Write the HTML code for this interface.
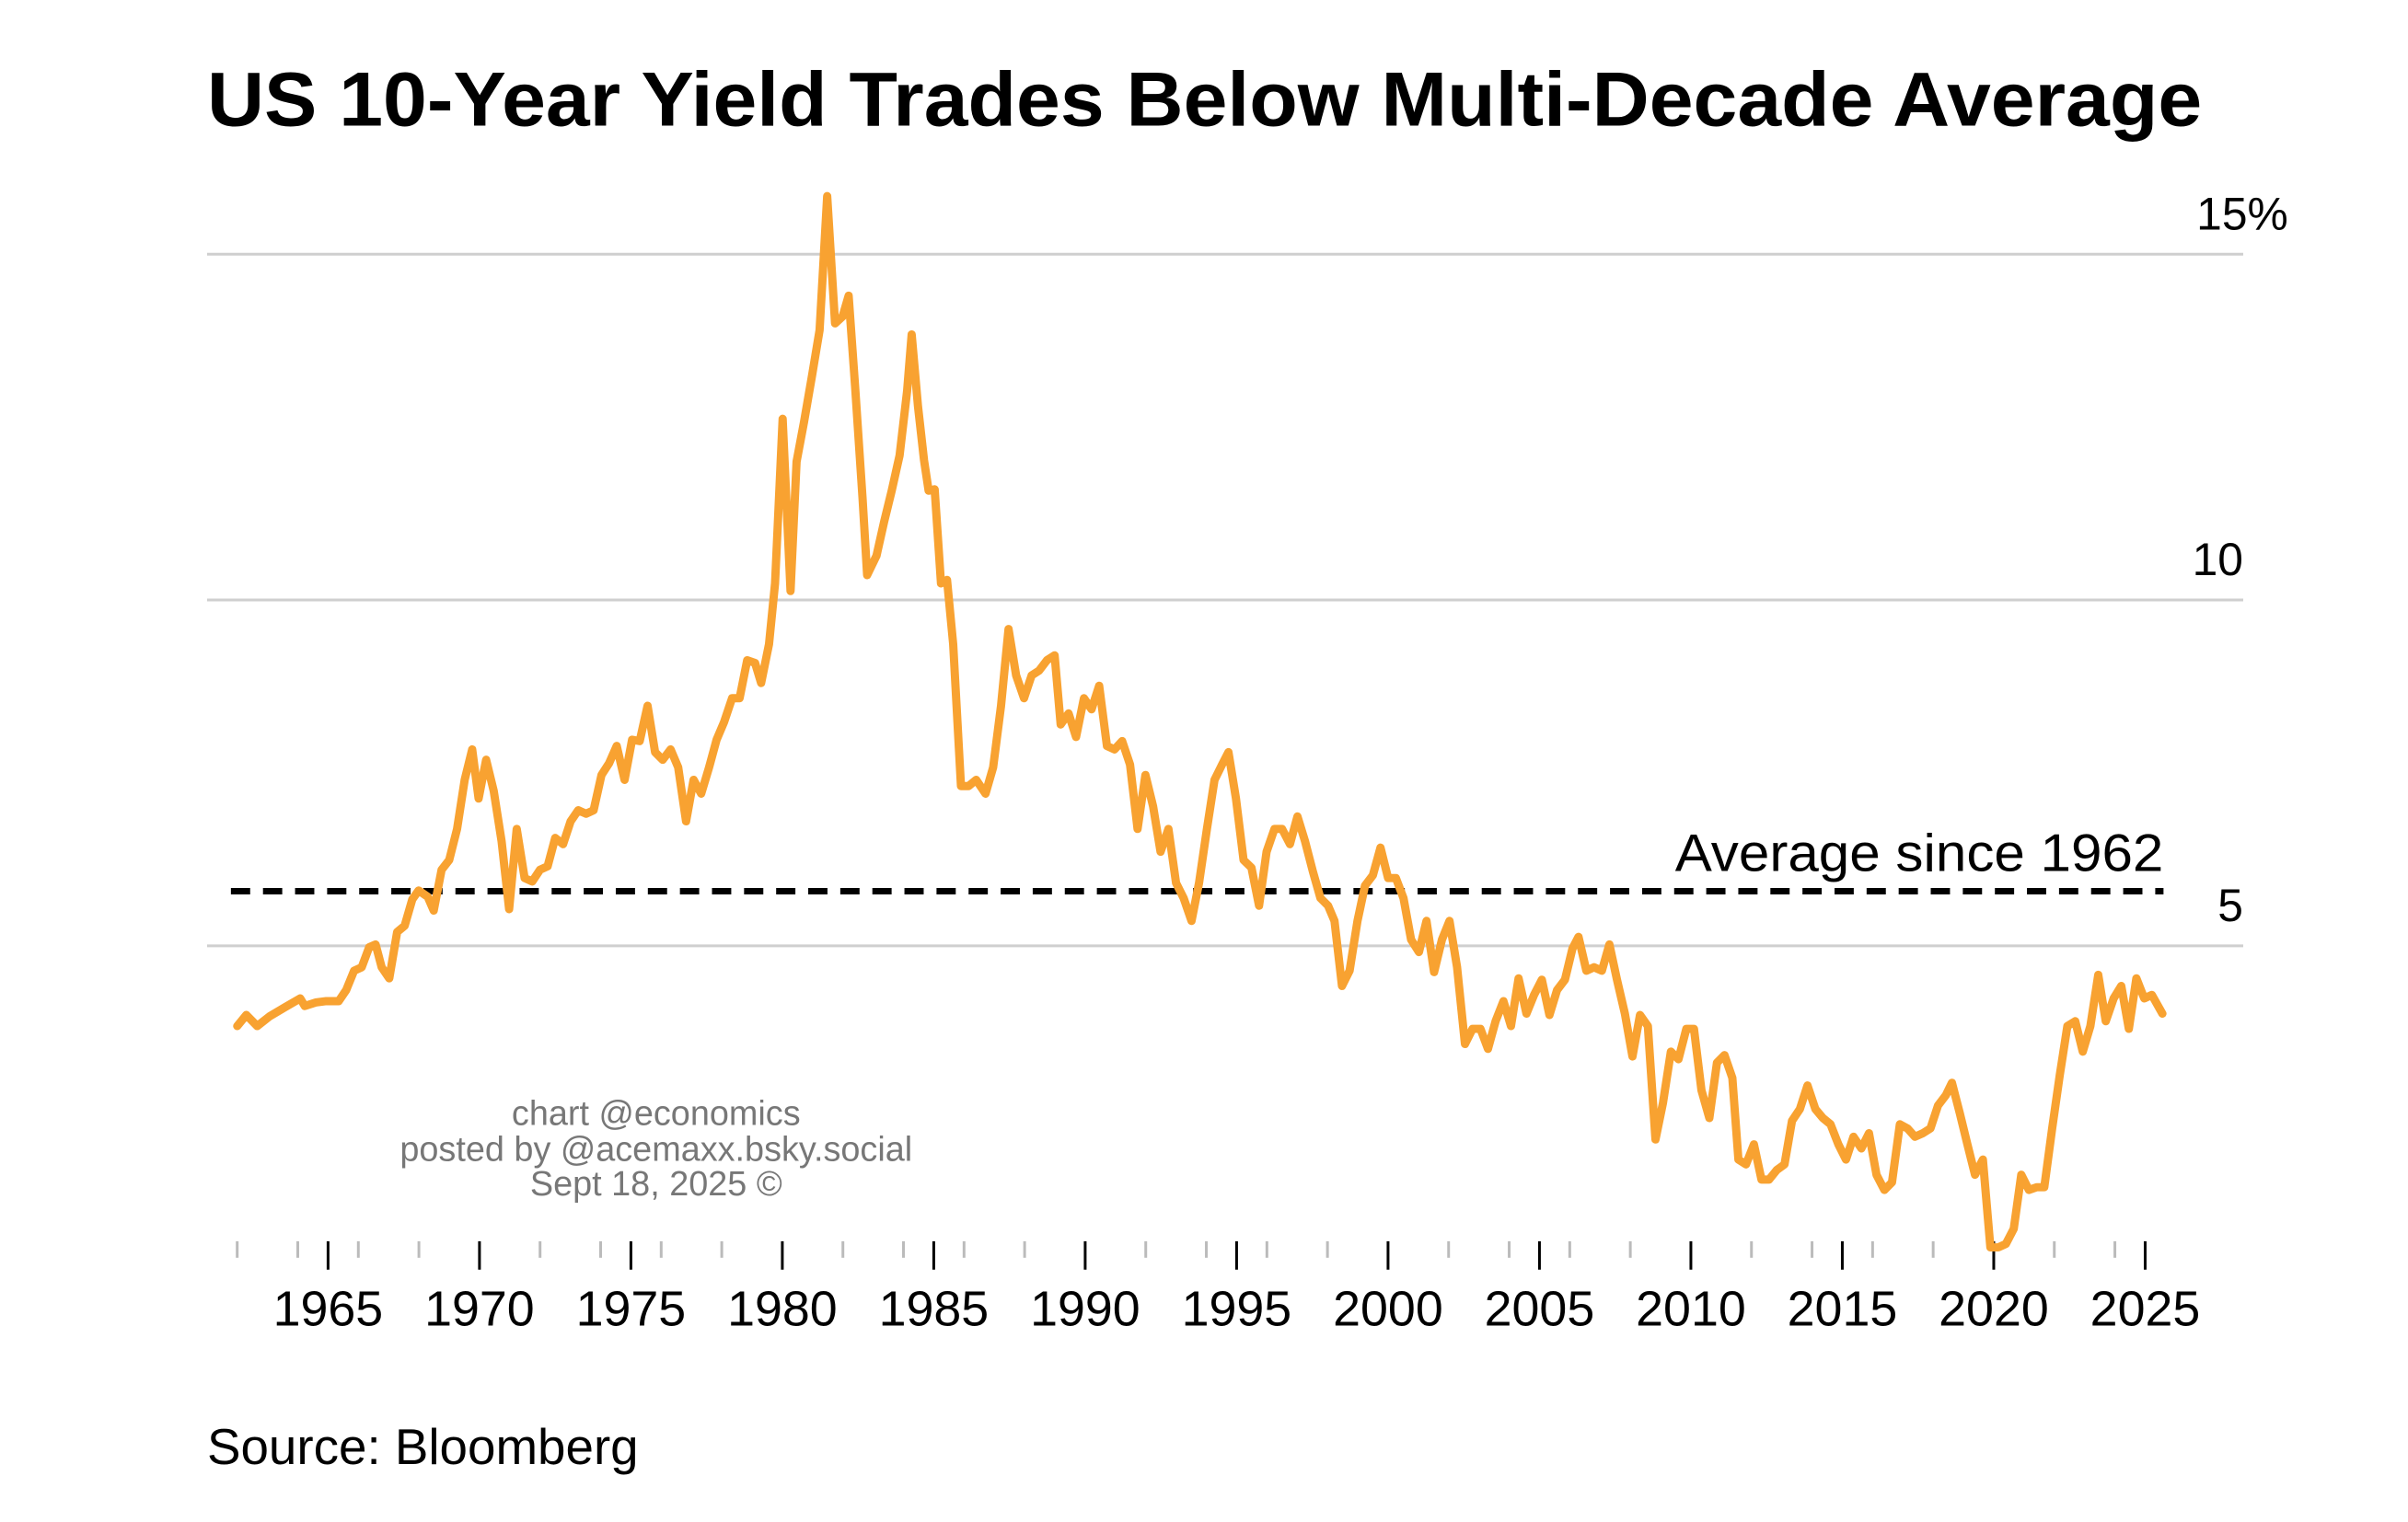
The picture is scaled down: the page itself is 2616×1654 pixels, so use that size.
<!DOCTYPE html>
<html><head><meta charset="utf-8"><style>
html,body{margin:0;padding:0;background:#fff;}
svg{display:block;font-family:"Liberation Sans",Arial,sans-serif;}
</style></head><body>
<svg id="chart" width="2616" height="1654" viewBox="0 0 2616 1654">
<rect width="2616" height="1654" fill="#fff"/>
<g transform="scale(0.9955)">
<text x="226" y="137" font-size="84" font-weight="bold" fill="#000" textLength="2177" lengthAdjust="spacingAndGlyphs">US 10-Year Yield Trades Below Multi-Decade Average</text>
<g id="grid"></g>
<g id="xaxis"></g>
<g id="yaxis"></g>
<g id="avg"></g>
<g id="series"></g>
<g fill="#777" font-size="38" text-anchor="middle">
<text x="716" y="1228">chart @economics</text>
<text x="716" y="1267">posted by @acemaxx.bsky.social</text>
<text x="716" y="1305">Sept 18, 2025 ©</text>
</g>
<text x="226" y="1598" font-size="55" fill="#000">Source: Bloomberg</text>
</g>
</svg>
<script>
const years = [1962.0,1962.30,1962.66,1963.07,1963.57,1964.08,1964.23,1964.59,1964.94,1965.35,1965.60,1965.86,1966.11,1966.36,1966.57,1966.77,1967.02,1967.28,1967.53,1967.78,1967.99,1968.29,1968.49,1968.75,1969.00,1969.26,1969.51,1969.76,1969.97,1970.22,1970.47,1970.73,1970.98,1971.23,1971.49,1971.74,1972.00,1972.25,1972.50,1972.76,1973.01,1973.26,1973.52,1973.77,1974.03,1974.28,1974.53,1974.79,1975.04,1975.29,1975.55,1975.80,1976.05,1976.31,1976.56,1976.82,1977.07,1977.32,1977.58,1977.83,1978.08,1978.34,1978.59,1978.84,1979.10,1979.30,1979.56,1979.76,1980.01,1980.27,1980.47,1980.72,1980.98,1981.23,1981.48,1981.74,1981.99,1982.19,1982.40,1982.65,1982.80,1983.11,1983.36,1983.61,1983.87,1984.12,1984.27,1984.48,1984.68,1984.83,1985.03,1985.24,1985.44,1985.64,1985.90,1986.15,1986.40,1986.71,1986.96,1987.22,1987.47,1987.72,1987.98,1988.23,1988.48,1988.74,1988.99,1989.19,1989.45,1989.70,1989.96,1990.21,1990.46,1990.72,1990.97,1991.22,1991.48,1991.73,1991.99,1992.24,1992.49,1992.75,1993.00,1993.25,1993.51,1993.76,1994.02,1994.27,1994.52,1994.73,1994.98,1995.23,1995.49,1995.74,1995.99,1996.25,1996.50,1996.76,1997.01,1997.26,1997.52,1997.77,1998.02,1998.23,1998.48,1998.73,1998.99,1999.24,1999.50,1999.75,2000.00,2000.26,2000.51,2000.76,2001.02,2001.27,2001.52,2001.78,2002.03,2002.28,2002.54,2002.79,2003.05,2003.30,2003.55,2003.81,2004.06,2004.31,2004.57,2004.82,2005.08,2005.33,2005.58,2005.84,2006.09,2006.29,2006.55,2006.80,2007.06,2007.31,2007.56,2007.82,2008.07,2008.32,2008.58,2008.83,2009.08,2009.34,2009.59,2009.85,2010.10,2010.35,2010.61,2010.86,2011.11,2011.37,2011.57,2011.82,2012.08,2012.33,2012.58,2012.84,2013.09,2013.34,2013.60,2013.85,2014.11,2014.36,2014.61,2014.87,2015.12,2015.37,2015.63,2015.88,2016.13,2016.39,2016.64,2016.90,2017.15,2017.40,2017.66,2017.91,2018.16,2018.42,2018.62,2018.88,2019.13,2019.38,2019.64,2019.89,2020.15,2020.40,2020.66,2020.91,2021.16,2021.42,2021.67,2021.93,2022.18,2022.43,2022.69,2022.94,2023.19,2023.45,2023.70,2023.96,2024.21,2024.46,2024.71,2024.97,2025.22,2025.57];
const yields = [3.84,4.0,3.84,3.98,4.11,4.24,4.13,4.18,4.2,4.2,4.36,4.64,4.69,4.98,5.02,4.69,4.53,5.2,5.29,5.67,5.8,5.71,5.51,6.1,6.24,6.69,7.4,7.84,7.13,7.69,7.24,6.51,5.53,6.69,5.98,5.93,6.1,6.15,6.56,6.47,6.8,6.96,6.91,6.96,7.47,7.64,7.89,7.4,7.98,7.96,8.47,7.8,7.69,7.84,7.58,6.8,7.4,7.2,7.58,7.98,8.24,8.58,8.58,9.13,9.09,8.8,9.36,10.24,12.62,10.13,12.0,12.58,13.24,13.9,15.84,14.0,14.1,14.4,13.1,11.47,10.36,10.64,11.13,11.58,12.09,13.02,13.84,12.8,12.02,11.58,11.6,10.24,10.29,9.36,7.31,7.31,7.4,7.2,7.58,8.47,9.58,8.91,8.58,8.91,8.98,9.13,9.2,8.2,8.36,8.02,8.58,8.42,8.76,7.89,7.84,7.96,7.62,6.69,7.47,7.02,6.36,6.69,5.91,5.69,5.36,5.91,6.69,7.4,7.62,7.8,7.13,6.24,6.13,5.58,6.36,6.69,6.69,6.47,6.87,6.51,6.07,5.69,5.58,5.36,4.42,4.64,5.36,5.87,6.02,6.42,5.98,5.98,5.69,5.09,4.91,5.36,4.62,5.09,5.36,4.69,3.58,3.8,3.8,3.51,3.91,4.2,3.84,4.53,4.02,4.29,4.51,4.0,4.36,4.51,4.96,5.13,4.64,4.69,4.64,5.02,4.51,4.02,3.4,4.0,3.84,2.2,2.73,3.47,3.36,3.8,3.8,2.91,2.51,3.31,3.42,3.09,1.91,1.84,2.13,1.62,1.62,1.76,1.84,2.47,2.64,2.98,2.64,2.51,2.42,2.13,1.91,2.24,2.07,2.29,1.69,1.47,1.58,2.42,2.36,2.24,2.29,2.36,2.69,2.84,3.02,2.58,2.13,1.69,1.91,0.64,0.64,0.69,0.91,1.69,1.47,1.51,1.51,2.36,3.13,3.84,3.91,3.47,3.84,4.58,3.91,4.24,4.42,3.8,4.53,4.24,4.29,4.02];
const yTicks = [5,10,15];
const yTickLabels = ["5","10","15%"];
const xMajorLabels = [1965,1970,1975,1980,1985,1990,1995,2000,2005,2010,2015,2020,2025];
const averageValue = [5.79];
const averageLabel = ["Average since 1962"];

const NS = "http://www.w3.org/2000/svg";
const X = y => 358 + (y - 1965) * 33.05;
const Y = v => 1410 - v * 75.5;
function mk(tag, attrs, parent, text){
  const e = document.createElementNS(NS, tag);
  for (const k in attrs) e.setAttribute(k, attrs[k]);
  if (text !== undefined) e.textContent = text;
  parent.appendChild(e);
  return e;
}
const grid = document.getElementById('grid');
const yaxis = document.getElementById('yaxis');
yTicks.forEach((t, i) => {
  const l = mk('line', {x1:226, x2:2448, y1:Y(t), y2:Y(t), stroke:'#cfcfcf', 'stroke-width':3}, grid);
  
  
  const tx = mk('text', {x: i === 2 ? 2497 : 2448, y: Y(t) - 27, 'font-size':50, 'text-anchor':'end', fill:'#000'}, yaxis, yTickLabels[i]);
  
  
});
const xaxis = document.getElementById('xaxis');
for (let yr = 1962; yr <= 2025; yr++) {
  const major = yr % 5 === 0;
  if (!major && yr % 2 !== 0) continue;
  const l = mk('line', {x1:X(yr), x2:X(yr), y1:1355, y2: major ? 1386 : 1373, stroke: major ? '#000' : '#bbb', 'stroke-width': 3}, xaxis);
  
  
}
xMajorLabels.forEach(yr => {
  const t = mk('text', {x:X(yr), y:1447, 'font-size':54, 'text-anchor':'middle', fill:'#000'}, xaxis, String(yr));
  
  
});
const avg = document.getElementById('avg');
const al = mk('line', {x1:252, x2:2361, y1:Y(averageValue[0]), y2:Y(averageValue[0]), stroke:'#000', 'stroke-width':7, 'stroke-dasharray':'21 14'}, avg);


const at = mk('text', {x:1828, y:Y(averageValue[0]) - 22, 'font-size':58, fill:'#000', textLength:533, lengthAdjust:'spacingAndGlyphs'}, avg, averageLabel[0]);


const series = document.getElementById('series');
const d = years.map((yr, i) => (i ? 'L' : 'M') + X(yr).toFixed(1) + ' ' + Y(yields[i]).toFixed(1)).join(' ');
const p = mk('path', {d:d, fill:'none', stroke:'#f8a231', 'stroke-width':9, 'stroke-linejoin':'round', 'stroke-linecap':'round'}, series);


</script>
</body></html>
